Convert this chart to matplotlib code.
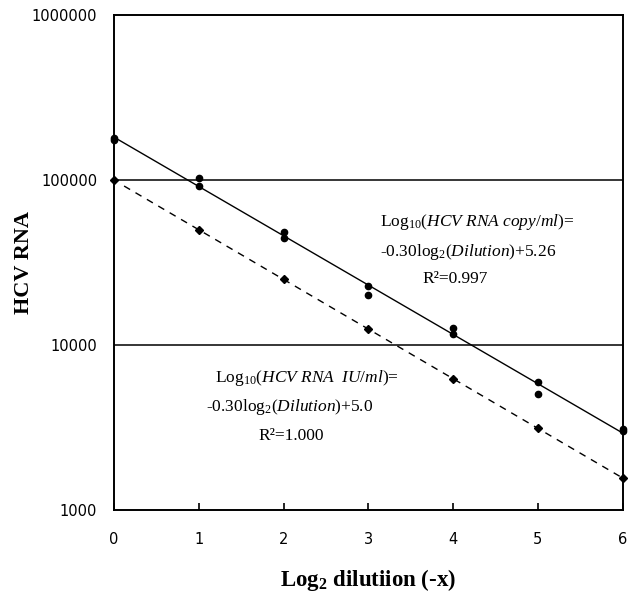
import numpy as np
import matplotlib
matplotlib.use("Agg")
import matplotlib.pyplot as plt
from matplotlib.ticker import FixedLocator, FuncFormatter, NullLocator

plt.rcParams['mathtext.fontset'] = 'custom'
plt.rcParams['mathtext.rm'] = 'Liberation Serif'
plt.rcParams['mathtext.it'] = 'Liberation Serif:italic'
plt.rcParams['mathtext.bf'] = 'Liberation Serif:bold'

# Data
dilution_copy = [0, 0, 1, 1, 2, 2, 3, 3, 4, 4, 5, 5, 6, 6]
copies = [180000, 175000, 102800, 92000, 48400, 44500, 22800, 20100,
          12700, 11700, 5970, 5050, 3100, 3000]
dilution_iu = [0, 1, 2, 3, 4, 5, 6]
iu = [100000, 50000, 25000, 12500, 6250, 3125, 1562.5]
y_ticks = [1000, 10000, 100000, 1000000]
x_ticks = [0, 1, 2, 3, 4, 5, 6]

fig = plt.figure(figsize=(6.4, 5.92), dpi=100)
ax = fig.add_axes([0.178, 0.1385, 0.795, 0.836])

ax.set_yscale('log')
ax.set_ylim(1000, 1000000)
ax.set_xlim(0, 6)

# grid lines at decades
for v in y_ticks[1:3]:
    ax.axhline(v, color='black', lw=1.1, zorder=1)

# fits
xf = np.array([0, 6])
p1 = np.polyfit(dilution_copy, np.log10(copies), 1)
ax.plot(xf, 10 ** np.polyval(p1, xf), color='black', lw=1.0, zorder=2)
p2 = np.polyfit(dilution_iu, np.log10(iu), 1)
xf2 = np.array([0.12, 6])
ax.plot(xf2, 10 ** np.polyval(p2, xf2), color='black', lw=1.0,
        ls=(0, (5, 4.5)), zorder=2)

ax.plot(dilution_copy, copies, 'o', color='black', ms=4.5, zorder=3, clip_on=False)
ax.plot(dilution_iu, iu, 'D', color='black', ms=3.8, zorder=3, clip_on=False)

ax.yaxis.set_major_locator(FixedLocator(y_ticks))
ax.yaxis.set_minor_locator(NullLocator())
ax.yaxis.set_major_formatter(FuncFormatter(lambda v, p: f"{int(round(v))}"))
ax.xaxis.set_major_locator(FixedLocator(x_ticks))
ax.tick_params(axis='x', direction='in', length=5, width=1.2, pad=16)
ax.tick_params(axis='y', length=0, pad=12)
for lab in ax.get_xticklabels() + ax.get_yticklabels():
    lab.set_family('DejaVu Sans')
    lab.set_fontsize(10.5)

for s in ax.spines.values():
    s.set_linewidth(1.4)

ax.set_ylabel('HCV RNA', family='Liberation Serif', fontweight='bold',
              fontsize=16)
ax.yaxis.set_label_coords(-0.158, 0.5)
ax.set_xlabel(r'Log$_{\mathbf{2}}$ dilutiion (-x)', family='Liberation Serif',
              fontweight='bold', fontsize=16.5, labelpad=14)

tfont = dict(family='Liberation Serif', fontsize=12.5, color='black',
             va='center', ha='left')
ax.text(3.136, 55600, r'Log$_{10}$($\mathit{HCV\ RNA\ copy/ml}$)=', **tfont)
ax.text(3.136, 36600, r'-0.30log$_{2}$($\mathit{Dilution}$)+5.26', **tfont)
ax.text(3.64, 25000, 'R²=0.997', **tfont)

ax.text(1.19, 6310, r'Log$_{10}$($\mathit{HCV\ RNA\ \ IU/ml}$)=', **tfont)
ax.text(1.08, 4210, r'-0.30log$_{2}$($\mathit{Dilution}$)+5.0', **tfont)
ax.text(1.70, 2800, 'R²=1.000', **tfont)

fig.savefig('out.png', dpi=100)
